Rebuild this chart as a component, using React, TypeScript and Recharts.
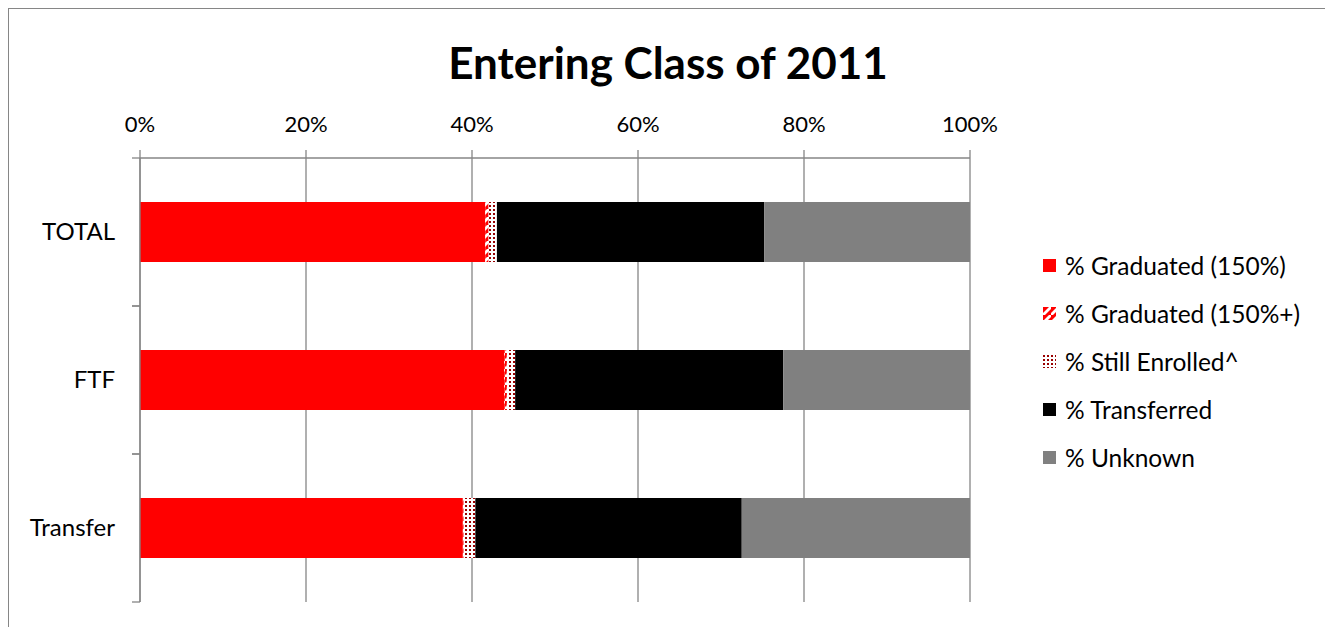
import { BarChart, Bar, XAxis, YAxis, CartesianGrid } from "recharts";

const categories = ["TOTAL", "FTF", "Transfer"];
const graduated = [41.6, 43.9, 38.9];
const graduatedPlus = [0.4, 0.3, 0.1];
const stillEnrolled = [1.0, 1.0, 1.4];
const transferred = [32.2, 32.3, 32.1];
const unknown = [24.8, 22.5, 27.5];
const xTicks = [0, 20, 40, 60, 80, 100];

const seriesNames = [
  "% Graduated (150%)",
  "% Graduated (150%+)",
  "% Still Enrolled^",
  "% Transferred",
  "% Unknown",
];
const seriesKeys = ["graduated", "graduatedPlus", "stillEnrolled", "transferred", "unknown"];
const seriesFills = ["#FF0000", "url(#gradPlus)", "url(#stillDots)", "#000000", "#808080"];

const data = categories.map((name, i) => ({
  name,
  graduated: graduated[i],
  graduatedPlus: graduatedPlus[i],
  stillEnrolled: stillEnrolled[i],
  transferred: transferred[i],
  unknown: unknown[i],
}));

const FONT = "Lato, 'Noto Sans', sans-serif";
const GRID = "#868686";
const LABEL_GAP = 25;

// category label plus the short marks at the edges of its band
function CategoryTick(props: any) {
  const { x, y, payload } = props;
  const half = payload.offset || 0;
  const ax = x + LABEL_GAP;
  return (
    <g>
      <line x1={ax - 8} x2={ax} y1={y - half} y2={y - half} stroke={GRID} strokeWidth={1.3} />
      <line x1={ax - 8} x2={ax} y1={y + half} y2={y + half} stroke={GRID} strokeWidth={1.3} />
      <text x={x} y={y} dy={8} textAnchor="end" fill="#000" fontSize={24}>
        {payload.value}
      </text>
    </g>
  );
}

export default function App() {
  return (
    <div
      style={{
        position: "relative",
        width: 1318,
        height: 625,
        border: `1px solid ${GRID}`,
        fontFamily: FONT,
        background: "#fff",
      }}
    >
      <svg width={0} height={0} style={{ position: "absolute" }}>
        <defs>
          <pattern id="gradPlus" width={8} height={8} patternUnits="userSpaceOnUse">
            <rect width={8} height={8} fill="#FF0000" />
            <polygon points="0,6 6,0 8,0 8,2 2,8 0,8" fill="#ffffff" />
          </pattern>
          <pattern id="stillDots" width={4} height={4} patternUnits="userSpaceOnUse">
            <rect width={4} height={4} fill="#ffffff" />
            <rect width={2} height={2} fill="#990000" />
          </pattern>
        </defs>
      </svg>

      <div
        style={{
          position: "absolute",
          top: 27,
          left: 0,
          width: "100%",
          textAlign: "center",
          fontSize: 44,
          lineHeight: "52px",
          fontWeight: 700,
          color: "#000",
        }}
      >
        Entering Class of 2011
      </div>

      <BarChart
        width={1318}
        height={640}
        data={data}
        layout="vertical"
        margin={{ top: 99, right: 357, bottom: 47, left: 0 }}
        barSize={60}
      >
        <CartesianGrid horizontal={false} stroke={GRID} strokeWidth={1.3} />
        <XAxis
          type="number"
          orientation="top"
          domain={[0, 100]}
          ticks={xTicks}
          tickFormatter={(v) => `${v}%`}
          height={50}
          tickSize={8}
          tickMargin={18}
          axisLine={{ stroke: GRID, strokeWidth: 1.3 }}
          tickLine={{ stroke: GRID, strokeWidth: 1.3 }}
          tick={{ fill: "#000", fontSize: 22 }}
          interval={0}
        />
        <YAxis
          type="category"
          dataKey="name"
          width={131}
          axisLine={{ stroke: GRID, strokeWidth: 1.3 }}
          tickLine={false}
          tickSize={0}
          tickMargin={LABEL_GAP}
          tick={<CategoryTick />}
        />
        {seriesKeys.map((k, i) => (
          <Bar
            key={k}
            dataKey={k}
            name={seriesNames[i]}
            stackId="a"
            fill={seriesFills[i]}
            isAnimationActive={false}
          />
        ))}
      </BarChart>

      <div style={{ position: "absolute", left: 1034, top: 232 }}>
        {seriesNames.map((n, i) => (
          <div
            key={n}
            style={{ display: "flex", alignItems: "center", height: 48, fontSize: 24.5, color: "#000" }}
          >
            <svg width={13} height={13} style={{ marginRight: 9 }}>
              <rect width={13} height={13} fill={seriesFills[i]} />
            </svg>
            {n}
          </div>
        ))}
      </div>
    </div>
  );
}
